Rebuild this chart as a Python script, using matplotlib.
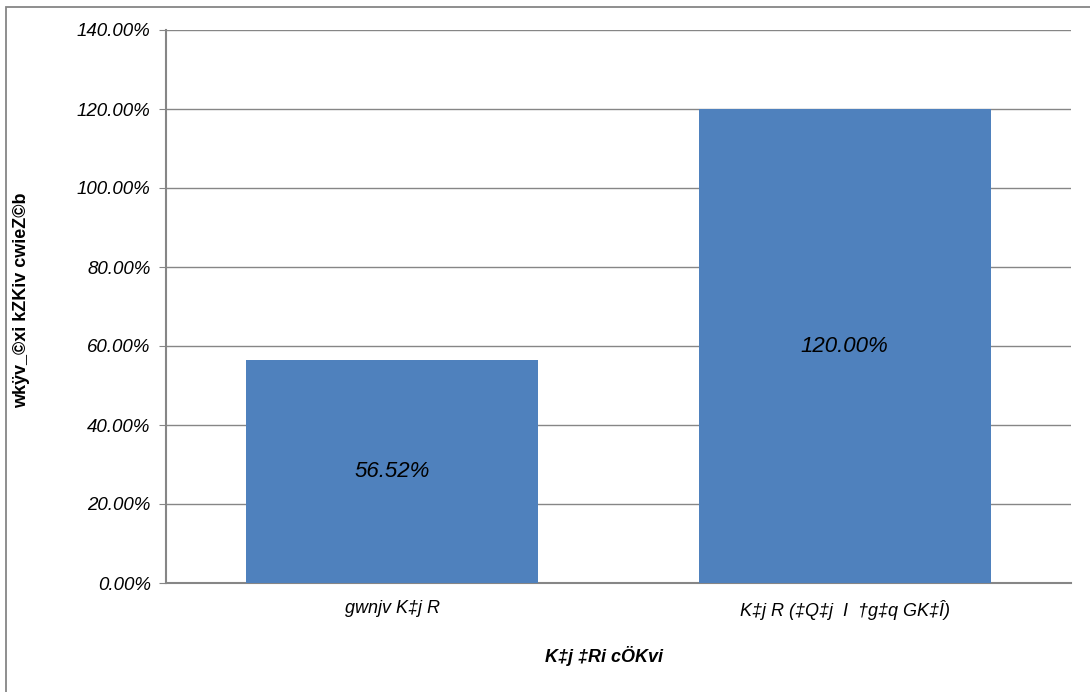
import matplotlib
matplotlib.use("Agg")
import matplotlib.pyplot as plt
from matplotlib.patches import Rectangle

# data
categories = ["gwnjv K‡j R", "K‡j R (‡Q‡j  I  †g‡q GK‡Î)"]
values = [56.52, 120.00]
yticks = [0, 20, 40, 60, 80, 100, 120, 140]
ylabel = "wkÿv_©xi kZKiv cwieZ©b"
xlabel = "K‡j ‡Ri cÖKvi"

W, H = 1090, 692
fig = plt.figure(figsize=(W / 100, H / 100), dpi=100)

# outer chart border
fig.patches.append(Rectangle((6 / W, -0.1), 1.2, 1 - 7 / H + 0.1, transform=fig.transFigure,
                             fill=False, edgecolor="#868686", lw=1.3))

ax = fig.add_axes([166 / W, 1 - 583 / H, (1071 - 166) / W, (583 - 30) / H])
x = range(len(categories))
bars = ax.bar(x, values, width=0.646, color="#4F81BD", zorder=3)

ax.set_ylim(0, 140)
ax.set_xlim(-0.5, 1.5)
ax.set_yticks(yticks)
ax.set_yticklabels([f"{v:.2f}%" for v in yticks], fontstyle="italic",
                   fontsize=13.5, family="Liberation Sans")
ax.set_xticks(list(x))
ax.set_xticklabels(categories, fontstyle="italic", fontsize=13, family="Liberation Sans")
ax.tick_params(axis="y", length=5, color="#868686", pad=6)
ax.tick_params(axis="x", length=0, pad=12)

ax.grid(axis="y", color="#868686", lw=1, zorder=0)
for s in ["top", "right"]:
    ax.spines[s].set_visible(False)
for s in ["left", "bottom"]:
    ax.spines[s].set_color("#868686")
    ax.spines[s].set_linewidth(1.5)

for b, v in zip(bars, values):
    ax.text(b.get_x() + b.get_width() / 2, v / 2, f"{v:.2f}%", ha="center", va="center",
            fontsize=16, fontstyle="italic", family="Liberation Sans")

fig.text(604 / W, 1 - 656 / H, xlabel, ha="center", va="center", fontsize=13,
         fontweight="bold", fontstyle="italic", family="Liberation Sans")
fig.text(22 / W, 1 - 300 / H, ylabel, ha="center", va="center", rotation=90,
         fontsize=13, fontweight="bold", family="Liberation Sans")

fig.savefig("out.png", dpi=100)
